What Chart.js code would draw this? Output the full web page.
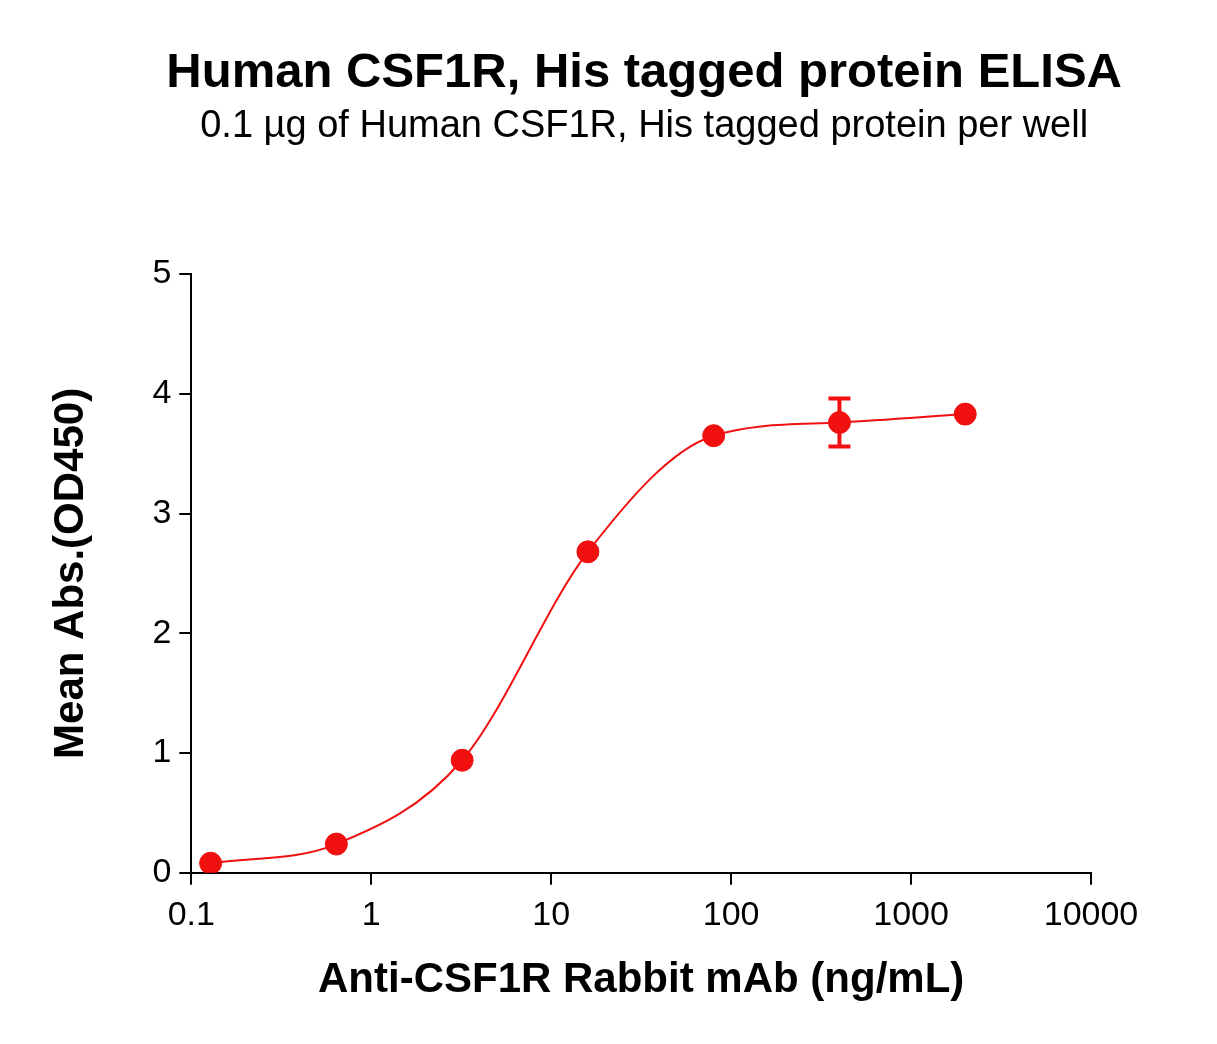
<!DOCTYPE html>
<html>
<head>
<meta charset="utf-8">
<script src="https://cdn.jsdelivr.net/npm/chart.js@4.4.0/dist/chart.umd.min.js"></script>
<style>
  body { margin: 0; background: #fff; }
</style>
</head>
<body>
<canvas id="c" width="1217" height="1044"></canvas>
<script>
const concentrations = [0.128, 0.64, 3.2, 16, 80, 400, 2000];
const meanAbs = [0.08, 0.24, 0.94, 2.68, 3.65, 3.76, 3.83];
const errAbs = [0, 0, 0, 0, 0, 0.2, 0];
const xTicks = [0.1, 1, 10, 100, 1000, 10000];
const titleText = 'Human CSF1R, His tagged protein ELISA';
const subtitleText = '0.1 \u00b5g of Human CSF1R, His tagged protein per well';

const red = '#f01010';
const font = 'Liberation Sans, Arial, sans-serif';

const points = concentrations.map((x, i) => ({ x: x, y: meanAbs[i] }));

const errorBars = {
  id: 'errorBars',
  afterDatasetsDraw(chart) {
    const { ctx, scales: { x, y } } = chart;
    ctx.save();
    ctx.strokeStyle = red;
    ctx.lineWidth = 4;
    concentrations.forEach((c, i) => {
      if (!errAbs[i]) return;
      const px = x.getPixelForValue(c);
      const top = y.getPixelForValue(meanAbs[i] + errAbs[i]);
      const bot = y.getPixelForValue(meanAbs[i] - errAbs[i]);
      ctx.beginPath();
      ctx.moveTo(px, top); ctx.lineTo(px, bot);
      ctx.moveTo(px - 11, top); ctx.lineTo(px + 11, top);
      ctx.moveTo(px - 11, bot); ctx.lineTo(px + 11, bot);
      ctx.stroke();
    });
    ctx.restore();
  }
};

// headings centred over the plot area, like the original
const headings = {
  id: 'headings',
  afterDraw(chart) {
    const { ctx, chartArea } = chart;
    const cx = (chartArea.left + chartArea.right) / 2 + 3;
    ctx.save();
    ctx.fillStyle = '#000';
    ctx.textAlign = 'center';
    ctx.textBaseline = 'alphabetic';
    ctx.font = 'bold 49px ' + font;
    ctx.fillText(titleText, cx, 87);
    ctx.font = '38px ' + font;
    ctx.fillText(subtitleText, cx, 137);
    ctx.restore();
  }
};

new Chart(document.getElementById('c'), {
  type: 'scatter',
  data: {
    datasets: [
      {
        data: points,
        showLine: true,
        cubicInterpolationMode: 'monotone',
        borderColor: red,
        borderWidth: 2,
        pointRadius: 0,
        fill: false
      },
      {
        data: points,
        backgroundColor: red,
        borderColor: red,
        pointRadius: 11,
        showLine: false
      }
    ]
  },
  options: {
    responsive: false,
    animation: false,
    devicePixelRatio: 1,
    layout: { padding: { top: 274, left: 42, right: 126, bottom: 34 } },
    plugins: {
      legend: { display: false },
      tooltip: { enabled: false },
      title: { display: false }
    },
    scales: {
      x: {
        type: 'logarithmic',
        min: 0.1,
        max: 10000,
        afterBuildTicks: s => { s.ticks = xTicks.map(v => ({ value: v })); },
        ticks: {
          color: '#000',
          font: { family: font, size: 34 },
          callback: v => String(v),
          maxRotation: 0,
          padding: 10
        },
        grid: { drawOnChartArea: false, color: '#000', tickLength: 12, lineWidth: 2 },
        border: { color: '#000', width: 2 },
        title: {
          display: true,
          text: 'Anti-CSF1R Rabbit mAb (ng/mL)',
          color: '#000',
          font: { family: font, size: 42, weight: 'bold' },
          padding: { top: 10 }
        }
      },
      y: {
        min: 0,
        max: 5,
        ticks: {
          stepSize: 1,
          color: '#000',
          font: { family: font, size: 34 },
          padding: 8
        },
        grid: { drawOnChartArea: false, color: '#000', tickLength: 12, lineWidth: 2 },
        border: { color: '#000', width: 2 },
        title: {
          display: true,
          text: 'Mean Abs.(OD450)',
          color: '#000',
          font: { family: font, size: 42, weight: 'bold' },
          padding: { bottom: 48 }
        }
      }
    }
  },
  plugins: [errorBars, headings]
});
</script>
</body>
</html>
